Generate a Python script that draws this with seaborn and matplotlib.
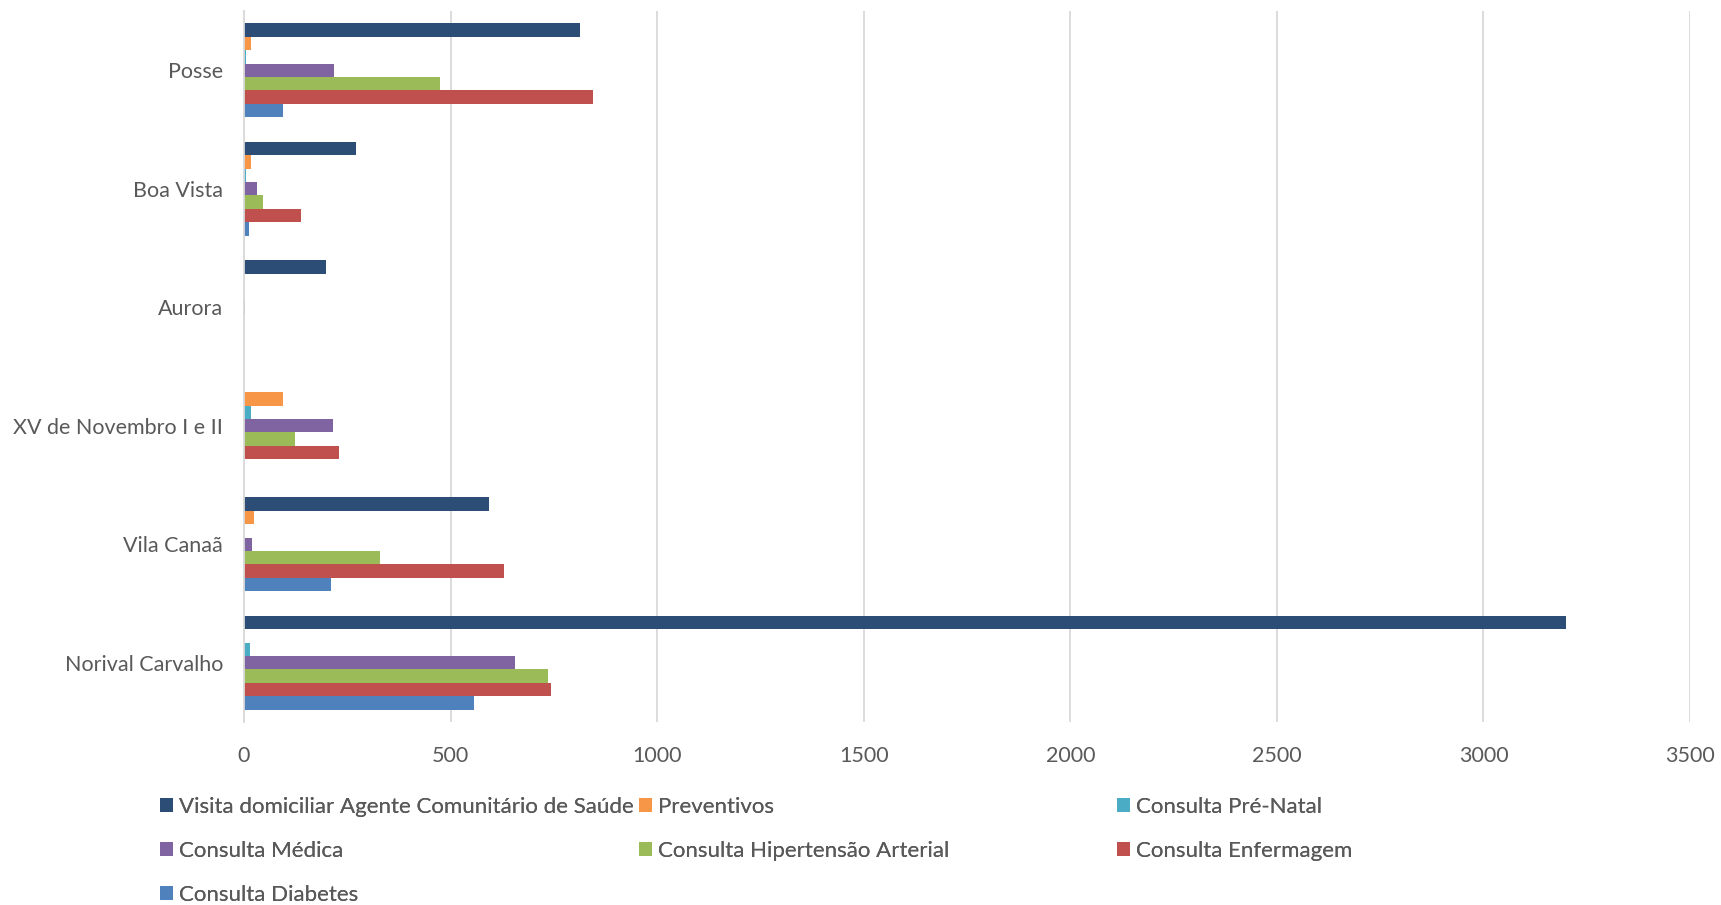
import pandas as pd
import numpy as np
import seaborn as sns
import matplotlib.pyplot as plt
from matplotlib.patches import Patch

# dados
unidades = ['Posse', 'Boa Vista', 'Aurora', 'XV de Novembro I e II', 'Vila Canaã', 'Norival Carvalho']
series = ['Visita domiciliar Agente Comunitário de Saúde', 'Preventivos', 'Consulta Pré-Natal',
          'Consulta Médica', 'Consulta Hipertensão Arterial', 'Consulta Enfermagem', 'Consulta Diabetes']
visita = [813, 271, 199, 0, 594, 3200]
preventivos = [16, 16, 0, 95, 24, 1]
pre_natal = [5, 5, 0, 16, 0, 14]
medica = [219, 32, 2, 216, 20, 656]
hipertensao = [475, 46, 0, 123, 329, 735]
enfermagem = [845, 138, 0, 231, 629, 744]
diabetes = [95, 13, 0, 0, 211, 557]
cores = ['#2C4D75', '#F79646', '#4BACC6', '#8064A2', '#9BBB59', '#C0504D', '#4F81BD']

valores = [visita, preventivos, pre_natal, medica, hipertensao, enfermagem, diabetes]
linhas = []
for s, vals in zip(series, valores):
    for u, v in zip(unidades, vals):
        linhas.append({'unidade': u, 'serie': s, 'valor': v})
df = pd.DataFrame(linhas)

sns.set_style('white')
plt.rcParams['font.family'] = ['Lato', 'DejaVu Sans']

fig = plt.figure(figsize=(17.21, 9.05), dpi=100)
ax = fig.add_axes([244 / 1721, 1 - 722 / 905, (1690 - 244) / 1721, (722 - 11) / 905])
sns.barplot(data=df, x='valor', y='unidade', hue='serie', order=unidades, hue_order=series,
            palette=cores, orient='h', width=0.79, gap=0, ax=ax, legend=False,
            linewidth=0, saturation=1)

ax.set_xlim(0, 3500)
ax.set_xticks(np.arange(0, 3501, 500))
ax.xaxis.grid(True, color='#D9D9D9', linewidth=1.3)
ax.set_axisbelow(True)
for lado in ['top', 'right', 'bottom']:
    ax.spines[lado].set_visible(False)
ax.spines['left'].set_color('#D9D9D9')
ax.spines['left'].set_linewidth(1.3)
ax.set_xlabel('')
ax.set_ylabel('')
ax.tick_params(axis='x', length=0, pad=17, labelsize=15.5, labelcolor='#595959')
ax.tick_params(axis='y', length=0, pad=15, labelsize=15.5, labelcolor='#595959')

# legenda em três colunas, ordem por linhas como no original
colunas = [[0, 3, 6], [1, 4], [2, 5]]
xs = [160 / 1721, 639 / 1721, 1117 / 1721]
for idx, x0 in zip(colunas, xs):
    handles = [Patch(facecolor=cores[i], edgecolor='none') for i in idx]
    labels = [series[i] for i in idx]
    leg = fig.legend(handles, labels, loc='upper left', bbox_to_anchor=(x0, 1 - 797 / 905),
                     frameon=False, fontsize=16, labelcolor='#595959', handlelength=0.6,
                     handleheight=0.6, handletextpad=0.25, labelspacing=1.08, borderpad=0,
                     borderaxespad=0)
    fig.add_artist(leg)

plt.savefig('out.png', dpi=100)
